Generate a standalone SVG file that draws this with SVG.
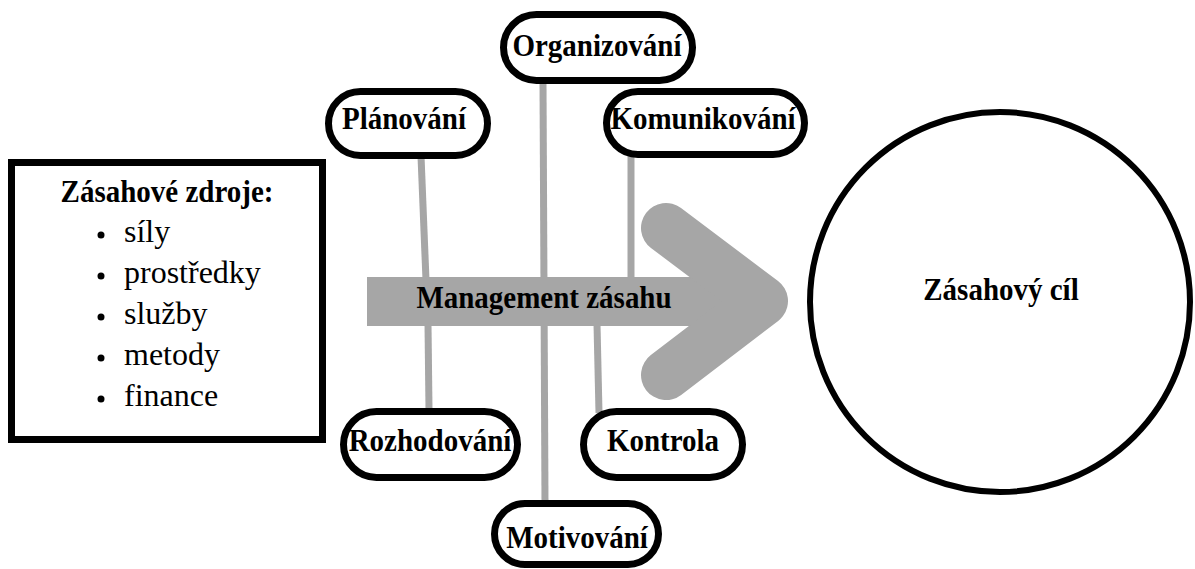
<svg xmlns="http://www.w3.org/2000/svg" width="1195" height="569" viewBox="0 0 1195 569">
<defs>
<style>
.pill{fill:#fff;stroke:#000;stroke-width:7}
.lbl{font-family:"Liberation Serif","Times New Roman",serif;font-weight:bold;font-size:29px;fill:#000;text-anchor:middle}
.item{font-family:"Liberation Serif","Times New Roman",serif;font-size:32px;fill:#000}
.con{stroke:#a6a6a6;stroke-width:7;fill:none}
</style>
</defs>
<rect width="1195" height="569" fill="#fff"/>
<g id="connectors">
<line class="con" x1="421" y1="156" x2="426" y2="280"/>
<line class="con" x1="428" y1="324" x2="429" y2="410"/>
<line class="con" x1="543" y1="82" x2="545" y2="502"/>
<line class="con" x1="631" y1="156" x2="631" y2="280"/>
<line class="con" x1="597" y1="324" x2="599" y2="413"/>
</g>
<g id="management">
<rect x="367" y="277" width="393" height="49" fill="#a6a6a6"/>
<polyline points="666,228 763,301 666,375" fill="none" stroke="#a6a6a6" stroke-width="50" stroke-linecap="round" stroke-linejoin="round"/>
<text class="lbl" transform="translate(544 308) scale(1 1.1)">Management zásahu</text>
</g>
<g id="zdroje">
<rect x="11.5" y="162.5" width="311" height="277" fill="#fff" stroke="#000" stroke-width="7"/>
<text class="lbl" transform="translate(167 202) scale(1 1.1)">Zásahové zdroje:</text>
<g fill="#000">
<circle cx="101" cy="235" r="3.5"/>
<circle cx="101" cy="276" r="3.5"/>
<circle cx="101" cy="317" r="3.5"/>
<circle cx="101" cy="358" r="3.5"/>
<circle cx="101" cy="399" r="3.5"/>
</g>
<text class="item" x="124" y="242">síly</text>
<text class="item" x="124" y="283">prostředky</text>
<text class="item" x="124" y="324">služby</text>
<text class="item" x="124" y="365">metody</text>
<text class="item" x="124" y="406">finance</text>
</g>
<g id="organizovani">
<rect class="pill" x="503.5" y="14.5" width="189" height="66" rx="33"/>
<text class="lbl" transform="translate(597 56) scale(1 1.1)">Organizování</text>
</g>
<g id="planovani">
<rect class="pill" x="328.5" y="91.5" width="159" height="64" rx="32"/>
<text class="lbl" transform="translate(404 129) scale(1 1.1)">Plánování</text>
</g>
<g id="komunikovani">
<rect class="pill" x="606.5" y="91.5" width="198" height="63" rx="31.5"/>
<text class="lbl" transform="translate(703 129) scale(1 1.1)">Komunikování</text>
</g>
<g id="rozhodovani">
<rect class="pill" x="343.5" y="411.5" width="174" height="66" rx="33"/>
<text class="lbl" transform="translate(430 451) scale(1 1.1)">Rozhodování</text>
</g>
<g id="kontrola">
<rect class="pill" x="583.5" y="411.5" width="159" height="66" rx="33"/>
<text class="lbl" transform="translate(663 451) scale(1 1.1)">Kontrola</text>
</g>
<g id="motivovani">
<rect class="pill" x="494.5" y="503.5" width="164" height="61" rx="30.5"/>
<text class="lbl" transform="translate(577 548) scale(1 1.1)">Motivování</text>
</g>
<g id="cil">
<circle cx="1000" cy="302" r="190" fill="#fff" stroke="#000" stroke-width="6"/>
<text class="lbl" transform="translate(1001 300) scale(1 1.1)">Zásahový cíl</text>
</g>
</svg>
